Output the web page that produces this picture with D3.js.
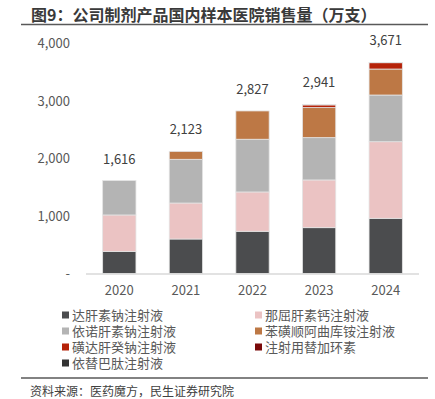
<!DOCTYPE html>
<html>
<head>
<meta charset="utf-8">
<script src="https://cdn.jsdelivr.net/npm/d3@7"></script>
<style>
    body { margin: 0; background: #fff; }
    svg { font-family: "Noto Sans CJK SC", "Noto Sans", sans-serif; }
</style>
</head>
<body>
<svg id="chart" width="435" height="399"></svg>
<script>
// years on the x axis
const years = ["2020", "2021", "2022", "2023", "2024"];

// one array per product, in stacking order (万支)
const dalteparin   = [383, 600, 734, 797, 960];
const nadroparin   = [635, 626, 684, 830, 1332];
const enoxaparin   = [598, 760, 917, 736, 812];
const cisatracur   = [0, 137, 492, 522, 452];
const fondaparinux = [0, 0, 0, 47, 110];
const tigecycline  = [0, 0, 0, 9, 5];
const eptifibatide = [0, 0, 0, 0, 0];

const seriesNames = ["达肝素钠注射液", "那屈肝素钙注射液", "依诺肝素钠注射液", "苯磺顺阿曲库铵注射液",
    "磺达肝癸钠注射液", "注射用替加环素", "依替巴肽注射液"];
const seriesValues = [dalteparin, nadroparin, enoxaparin, cisatracur, fondaparinux, tigecycline, eptifibatide];
const seriesColors = ["#4b4c4e", "#ebc3c3", "#b4b4b4", "#bd7845", "#b52208", "#7a0a0a", "#333333"];

const yTicks = [0, 1000, 2000, 3000, 4000];

const svg = d3.select("#chart");

// table for the stack
const table = years.map((y, i) => {
    const row = { year: y };
    seriesNames.forEach((n, j) => row[n] = seriesValues[j][i]);
    return row;
});
const stacked = d3.stack().keys(seriesNames)(table);
const totals = years.map((y, i) => d3.sum(seriesValues, s => s[i]));

const x = d3.scaleBand().domain(years).range([86, 419]).paddingInner(0.5).paddingOuter(0.25);
const y = d3.scaleLinear().domain([0, 4000]).range([273.5, 43.5]);

// title
svg.append("text")
    .attr("x", 31).attr("y", 21)
    .attr("font-size", 16).attr("font-weight", "bold").attr("fill", "#3a3a3a")
    .text("图9：公司制剂产品国内样本医院销售量（万支）");
svg.append("line")
    .attr("x1", 21).attr("x2", 428).attr("y1", 24.5).attr("y2", 24.5)
    .attr("stroke", "#595959").attr("stroke-width", 1.5);

// y axis
const yAxis = svg.append("g")
    .attr("transform", "translate(70,0)")
    .call(d3.axisLeft(y).tickValues(yTicks).tickSize(0).tickPadding(0)
        .tickFormat(d => d === 0 ? "-" : d3.format(",")(d)));
yAxis.select(".domain").remove();
yAxis.selectAll("text")
    .attr("font-family", "\"Noto Sans CJK SC\", sans-serif")
    .attr("font-size", 13).attr("fill", "#595959");

// bars
svg.append("g")
    .selectAll("g")
    .data(stacked)
    .join("g")
    .attr("fill", (d, i) => seriesColors[i])
    .selectAll("rect")
    .data(d => d.filter(p => p[1] > p[0]))
    .join("rect")
    .attr("x", d => x(d.data.year))
    .attr("width", x.bandwidth())
    .attr("y", d => y(d[1]))
    .attr("height", d => y(d[0]) - y(d[1]))
    .attr("stroke", "#e4e4e4")
    .attr("stroke-width", 0.8);

// baseline
svg.append("line")
    .attr("x1", 86).attr("x2", 419).attr("y1", 274).attr("y2", 274)
    .attr("stroke", "#d9d9d9").attr("stroke-width", 1.5);

// x axis labels
const xAxis = svg.append("g")
    .attr("transform", "translate(0,274)")
    .call(d3.axisBottom(x).tickSize(0).tickPadding(12));
xAxis.select(".domain").remove();
xAxis.selectAll("text")
    .attr("font-family", "\"Noto Sans CJK SC\", sans-serif")
    .attr("font-size", 13).attr("fill", "#595959");

// total labels
svg.append("g")
    .selectAll("text")
    .data(years)
    .join("text")
    .attr("x", d => x(d) + x.bandwidth() / 2)
    .attr("y", (d, i) => y(totals[i]) - 17)
    .attr("text-anchor", "middle")
    .attr("font-size", 13).attr("fill", "#404040")
    .text((d, i) => d3.format(",")(totals[i]));

// legend
const legend = svg.append("g")
    .selectAll("g")
    .data(seriesNames)
    .join("g")
    .attr("transform", (d, i) => `translate(${i % 2 === 0 ? 62 : 255},${315 + Math.floor(i / 2) * 16})`);
legend.append("rect")
    .attr("x", 0).attr("y", -3.5).attr("width", 7).attr("height", 7)
    .attr("fill", (d, i) => seriesColors[i]);
legend.append("text")
    .attr("x", 10).attr("dy", "0.36em")
    .attr("font-size", 13).attr("fill", "#595959")
    .text(d => d);

// footer
svg.append("line")
    .attr("x1", 21).attr("x2", 428).attr("y1", 378).attr("y2", 378)
    .attr("stroke", "#595959").attr("stroke-width", 1.5);
svg.append("text")
    .attr("x", 30).attr("y", 396)
    .attr("font-size", 12).attr("fill", "#404040")
    .text("资料来源：医药魔方，民生证券研究院");
</script>
</body>
</html>
